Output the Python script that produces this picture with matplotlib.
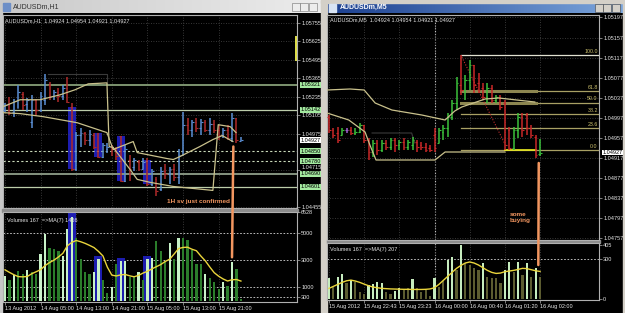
import matplotlib
matplotlib.use('Agg')
import matplotlib.pyplot as plt
import matplotlib.transforms as mtransforms
from matplotlib.patches import Rectangle, ConnectionPatch
import numpy as np

plt.rcParams['font.family'] = ['Liberation Sans', 'DejaVu Sans']

# ---------------- AUDUSDm H1 ----------------
h1_open = [1.05144, 1.05179, 1.05130, 1.05158, 1.05256, 1.05186, 1.05059, 1.05214, 1.05144, 1.05214,
           1.05319, 1.05242, 1.05270, 1.05242, 1.05298, 1.05165, 1.04722, 1.04968, 1.04982, 1.04933,
           1.04968, 1.04982, 1.04813, 1.04863, 1.04877, 1.04863, 1.04961, 1.04638, 1.04792, 1.04736,
           1.04778, 1.04722, 1.04792, 1.04616, 1.04652, 1.04581, 1.04708, 1.04687, 1.04722, 1.04666,
           1.04827, 1.05038, 1.05003, 1.05059, 1.05017, 1.05059, 1.05003, 1.05045, 1.05003, 1.04968,
           1.05003, 1.04947, 1.05088, 1.04924]
h1_high = [1.05193, 1.05235, 1.05221, 1.05319, 1.05270, 1.05228, 1.05249, 1.05221, 1.05270, 1.05397,
           1.05341, 1.05284, 1.05298, 1.05319, 1.05376, 1.05193, 1.04989, 1.05017, 1.04989, 1.05003,
           1.04982, 1.04982, 1.04912, 1.04912, 1.04898, 1.04884, 1.04961, 1.04898, 1.04827, 1.04806,
           1.04792, 1.04806, 1.04806, 1.04722, 1.04666, 1.04736, 1.04757, 1.04736, 1.04757, 1.04863,
           1.05130, 1.05088, 1.05073, 1.05088, 1.05080, 1.05073, 1.05088, 1.05073, 1.05038, 1.05017,
           1.05038, 1.05123, 1.05088, 1.04954]
h1_low = [1.05130, 1.05109, 1.05095, 1.05158, 1.05144, 1.05130, 1.05017, 1.05109, 1.05130, 1.05179,
          1.05214, 1.05214, 1.05200, 1.05214, 1.05193, 1.04708, 1.04708, 1.04877, 1.04898, 1.04891,
          1.04863, 1.04806, 1.04806, 1.04841, 1.04820, 1.04792, 1.04631, 1.04631, 1.04638, 1.04708,
          1.04708, 1.04722, 1.04602, 1.04602, 1.04532, 1.04567, 1.04652, 1.04616, 1.04638, 1.04616,
          1.04827, 1.04968, 1.04954, 1.04989, 1.04968, 1.04989, 1.04968, 1.04982, 1.04933, 1.04947,
          1.04933, 1.04919, 1.04912, 1.04921]
h1_close = [1.05179, 1.05123, 1.05207, 1.05270, 1.05179, 1.05214, 1.05214, 1.05144, 1.05242, 1.05355,
            1.05242, 1.05270, 1.05242, 1.05298, 1.05200, 1.04722, 1.04968, 1.04982, 1.04933, 1.04975,
            1.04877, 1.04813, 1.04898, 1.04877, 1.04863, 1.04820, 1.04638, 1.04863, 1.04722, 1.04792,
            1.04722, 1.04778, 1.04616, 1.04708, 1.04567, 1.04708, 1.04687, 1.04722, 1.04666, 1.04827,
            1.05038, 1.05003, 1.05059, 1.05017, 1.05059, 1.05003, 1.05045, 1.05003, 1.04968, 1.05003,
            1.04947, 1.05088, 1.04927, 1.04927]
h1_vol = [1810, 1520, 1880, 2240, 2000, 2290, 2100, 1950, 3480, 4900,
          3900, 3800, 3700, 3310, 5290, 6160, 4600, 3070, 2120, 2000,
          2120, 3070, 1520, 620, 1050, 2710, 2950, 2950, 1780, 1780,
          2120, 1520, 3070, 3190, 4380, 3670, 2950, 4260, 3070, 4660,
          4600, 4480, 3780, 2710, 2710, 2000, 1670, 1430, 880, 1430,
          1120, 2830, 2360, 167]
h1_vol_pale = [1, 0, 1, 0, 0, 1, 0, 0, 1, 1, 0, 0, 0, 1, 1, 1, 0, 0, 0, 0,
               1, 1, 0, 0, 1, 0, 1, 1, 0, 0, 1, 0, 1, 1, 0, 0, 0, 1, 0, 1,
               0, 0, 0, 0, 0, 1, 0, 0, 0, 1, 0, 1, 0, 0]
h1_vol_ma = [2290, 2100, 1930, 1790, 1775, 1800, 2000, 2150, 2300, 2600,
             2820, 3000, 3230, 3500, 4050, 4300, 4440, 4350, 4230, 4080,
             3920, 3640, 3310, 2480, 1900, 1840, 1920, 1950, 1850, 1780,
             1880, 2050, 2180, 2360, 2520, 2680, 2900, 3070, 3450, 3850,
             3930, 3950, 3800, 3690, 3300, 2950, 2500, 2080, 1820, 1620,
             1470, 1560, 1580, 1466]
h1_marked = [15, 21, 26, 32]
h1_dates = ['13 Aug 2012', '14 Aug 05:00', '14 Aug 13:00', '14 Aug 21:00',
            '15 Aug 05:00', '15 Aug 13:00', '15 Aug 21:00']
# 1.04845 and 1.04585 sit under the level boxes, so they are left out
h1_price_ticks = [1.05755, 1.05625, 1.05495, 1.05365, 1.05235, 1.05105,
                  1.04975, 1.04715, 1.04455]
h1_raised_tick = 1.04715
h1_levels = [1.05321, 1.05142, 1.04850, 1.04780, 1.04690, 1.04601]
h1_vol_levels = [300, 1000, 3000, 5000]
h1_vol_ticks = [300, 1000, 3000, 5000, 6528]

h1_up_x = [-0.45, 3.4, 7.9, 12.4, 15.7, 18.7, 22.9, 23.4, 24.3]
h1_up_y = [1.05165, 1.05214, 1.05214, 1.05249, 1.05284, 1.05326, 1.05333, 1.04884, 1.04877]
h1_mid_x = [-0.45, 3.4, 8.5, 16.2, 22.9, 24.3, 28.8, 29.7, 36.4, 37.8, 39.3, 43.8, 46.7, 48.8, 51.2]
h1_mid_y = [1.05123, 1.05116, 1.05095, 1.05052, 1.04982, 1.04863, 1.04919, 1.04841, 1.04799,
            1.04792, 1.04813, 1.04884, 1.04933, 1.04961, 1.04919]
h1_low_x = [24.3, 28.1, 29.7, 32.6, 37.8, 46.7, 47.9, 50.6, 51.9]
h1_low_y = [1.04877, 1.04722, 1.04652, 1.04631, 1.04602, 1.04574, 1.05038, 1.05024, 1.04982]
h1_box_x = [9.7, 22.9, 22.9]
h1_box_y = [1.05397, 1.05397, 1.05333]

# ---------------- AUDUSDm M5 ----------------
m5_open = [1.04998, 1.04972, 1.04966, 1.04962, 1.04972, 1.04972, 1.04966, 1.04968, 1.04982, 1.04952,
           1.04928, 1.04946, 1.04932, 1.04946, 1.04938, 1.04952, 1.04942, 1.04948, 1.04938, 1.04942,
           1.04948, 1.04942, 1.04938, 1.04936, 1.04962, 1.04946, 1.04968, 1.04976, 1.04998, 1.05026,
           1.05062, 1.05052, 1.05072, 1.05102, 1.05066, 1.05056, 1.05038, 1.05056, 1.05032, 1.05038,
           1.05026, 1.04972, 1.04936, 1.04972, 1.04998, 1.05002, 1.04976, 1.04958, 1.04924]
m5_high = [1.05002, 1.04976, 1.04978, 1.04976, 1.04976, 1.04978, 1.04976, 1.04986, 1.04982, 1.04956,
           1.04952, 1.04952, 1.04952, 1.04952, 1.04956, 1.04956, 1.04952, 1.04956, 1.04952, 1.04958,
           1.04952, 1.04948, 1.04946, 1.04942, 1.04976, 1.04976, 1.04982, 1.05006, 1.05032, 1.05078,
           1.05122, 1.05082, 1.05112, 1.05102, 1.05086, 1.05066, 1.05066, 1.05062, 1.05042, 1.05042,
           1.05032, 1.04978, 1.04978, 1.05006, 1.05006, 1.05006, 1.04982, 1.04962, 1.04954]
m5_low = [1.04966, 1.04956, 1.04946, 1.04962, 1.04966, 1.04962, 1.04962, 1.04966, 1.04946, 1.04912,
          1.04918, 1.04922, 1.04928, 1.04932, 1.04932, 1.04928, 1.04932, 1.04932, 1.04932, 1.04932,
          1.04928, 1.04932, 1.04928, 1.04928, 1.04928, 1.04946, 1.04952, 1.04958, 1.04992, 1.05012,
          1.05042, 1.05032, 1.05052, 1.05046, 1.05046, 1.05032, 1.05026, 1.05026, 1.05026, 1.05012,
          1.04932, 1.04932, 1.04932, 1.04956, 1.04958, 1.04962, 1.04956, 1.04916, 1.04921]
m5_close = [1.04972, 1.04962, 1.04952, 1.04972, 1.04972, 1.04966, 1.04968, 1.04982, 1.04952, 1.04928,
            1.04946, 1.04932, 1.04946, 1.04938, 1.04952, 1.04942, 1.04948, 1.04938, 1.04948, 1.04952,
            1.04938, 1.04938, 1.04932, 1.04932, 1.04936, 1.04972, 1.04976, 1.04998, 1.05026, 1.05066,
            1.05052, 1.05072, 1.05102, 1.05062, 1.05052, 1.05038, 1.05056, 1.05032, 1.05038, 1.05018,
            1.04942, 1.04936, 1.04972, 1.04998, 1.04972, 1.04976, 1.04962, 1.04922, 1.04927]
m5_vol = [160, 92, 166, 191, 117, 142, 130, 55, 38, 105,
          110, 130, 117, 55, 38, 62, 80, 67, 80, 148,
          80, 55, 67, 25, 155, 92, 137, 292, 317, 217,
          405, 267, 255, 230, 217, 267, 167, 155, 155, 117,
          217, 280, 205, 280, 180, 267, 167, 230, 167]
m5_vol_pale = [1, 0, 1, 1, 0, 1, 0, 0, 0, 1, 1, 1, 1, 0, 0, 1, 1, 0, 0, 1,
               0, 0, 0, 0, 1, 0, 0, 1, 1, 0, 1, 0, 0, 0, 0, 1, 0, 0, 0, 0,
               1, 1, 0, 1, 0, 1, 0, 1, 0]
m5_vol_ma = [80, 95, 110, 125, 137, 142, 135, 125, 112, 100,
             90, 85, 80, 78, 76, 75, 74, 73, 73, 72,
             72, 72, 73, 76, 85, 110, 140, 170, 200, 230,
             252, 270, 278, 270, 255, 235, 215, 200, 192, 195,
             205, 210, 215, 222, 230, 228, 220, 212, 207]
m5_dates = ['15 Aug 2012', '15 Aug 22:43', '15 Aug 23:23', '16 Aug 00:00',
            '16 Aug 00:40', '16 Aug 01:20', '16 Aug 02:00']
m5_price_ticks = [1.05197, 1.05157, 1.05117, 1.05077, 1.05037, 1.04997,
                  1.04957, 1.04917, 1.04877, 1.04837, 1.04797, 1.04757]
m5_vol_ticks = [0, 300, 405]
fib_ratios = [0.0, 23.6, 38.2, 50.0, 61.8, 100.0]
fib_low, fib_high, fib_start = 1.04932, 1.05122, 30

m5_up_x = [-0.45, 4.8, 8.0, 10.5, 14.3, 21.1, 26.4, 28.6, 30.2, 35.5, 38.6, 46.8]
m5_up_y = [1.05052, 1.05054, 1.05052, 1.05026, 1.05012, 1.05002, 1.04992, 1.05010, 1.05018,
           1.05034, 1.05036, 1.05028]
m5_low_x = [-0.45, 4.5, 8.2, 9.3, 10.7, 24.1, 26.4, 40.0]
m5_low_y = [1.05006, 1.04992, 1.04968, 1.04942, 1.04912, 1.04912, 1.04928, 1.04928]
m5_box_x = [9.8, 18.8, 19.5]
m5_box_y = [1.04966, 1.04966, 1.04946]

W, H = 625, 313
TXT = '#e6e6e6'
GRID = '#4a4a4a'
KHAKI = '#c9c18c'
ORANGE = '#f29660'
DARKLINE = '#3a3a3a'


def rect(x0, y0, x1, y1):
    return [x0 / W, 1 - y1 / H, (x1 - x0) / W, (y1 - y0) / H]


def draw_bars(ax, o, h, l, c, up, dn, flat):
    o, h, l, c = map(np.array, (o, h, l, c))
    x = np.arange(len(o))
    cols = np.where(c > o, up, np.where(c < o, dn, flat))
    ax.vlines(x, l, h, colors=cols, lw=1.1, zorder=3)
    ax.hlines(o, x - 0.4, x, colors=cols, lw=0.8, zorder=3)
    ax.hlines(c, x, x + 0.4, colors=cols, lw=0.8, zorder=3)


def style(ax, yticks, fmt, skip=None):
    ax.set_facecolor('black')
    for s in ax.spines.values():
        s.set_color('#b0b0b0')
        s.set_linewidth(0.8)
    ax.yaxis.tick_right()
    ax.set_yticks(yticks)
    ax.set_yticklabels(['' if v == skip else fmt % v for v in yticks])
    ax.tick_params(axis='y', colors='#b0b0b0', labelcolor=TXT, labelsize=4,
                   length=2, width=0.5, pad=1)
    ax.tick_params(axis='x', colors='#b0b0b0', labelcolor=TXT, labelsize=4,
                   length=2, width=0.5, pad=1)


def price_box(ax, y, fc):
    tr = mtransforms.blended_transform_factory(ax.transAxes, ax.transData)
    ax.text(1.012, y, '%.5f' % y, transform=tr, ha='left', va='center', fontsize=4,
            color='black', clip_on=False, zorder=6,
            bbox=dict(boxstyle='square,pad=0.08', fc=fc, ec='none'))


fig = plt.figure(figsize=(6.25, 3.13), dpi=100, facecolor='black')

# window chrome
bg = fig.add_axes([0, 0, 1, 1], zorder=0)
bg.set_xlim(0, W)
bg.set_ylim(H, 0)
bg.axis('off')
grad = np.linspace(0, 1, 256)[None, :]
bg.imshow(grad, cmap=matplotlib.colors.LinearSegmentedColormap.from_list('t1', ['#c9c9c9', '#ececec']),
          extent=(0, 321, 13, 0), aspect='auto')
bg.add_patch(Rectangle((0, 0), 1.5, H, color='#c8c8c8'))
bg.add_patch(Rectangle((2.5, 2.5), 7, 8, color='#6d8fc7'))
bg.text(13, 7, 'AUDUSDm,H1', fontsize=5, color='#303030', va='center')
bg.add_patch(Rectangle((321, 0), 6, H, color='#d4d0c8'))
bg.add_patch(Rectangle((321, 0), 304, 2.5, color='#d4d0c8'))
bg.add_patch(Rectangle((622.5, 0), 2.5, H, color='#d4d0c8'))
bg.imshow(grad, cmap=matplotlib.colors.LinearSegmentedColormap.from_list('t2', ['#1b3f8f', '#7ba5dc']),
          extent=(327, 622.5, 13, 2.5), aspect='auto')
bg.add_patch(Rectangle((329, 4), 7, 8, color='#d8e4f4'))
bg.text(340, 7.8, 'AUDUSDm,M5', fontsize=5, color='white', va='center', fontweight='bold')
for bx in (292, 300, 309):
    bg.add_patch(Rectangle((bx, 3), 7.5, 8, fc='#ececec', ec='#707070', lw=0.4))
for bx in (595, 603, 612):
    bg.add_patch(Rectangle((bx, 4), 7.5, 7.5, fc='#d4d0c8', ec='#404040', lw=0.4))
bg.add_patch(Rectangle((2, 208.5), 296, 3, color='#8c8c8c'))
bg.add_patch(Rectangle((327, 240.2), 273, 2.8, color='#8c8c8c'))

# ---- H1 main ----
ax1 = fig.add_axes(rect(3, 15, 297, 208), zorder=2)
style(ax1, h1_price_ticks, '%.5f', skip=h1_raised_tick)
ax1.set_xlim(-0.45, 65.6)
ax1.set_ylim(1.04450, 1.05812)
ax1.set_xticks(range(0, len(h1_open), 8))
ax1.tick_params(axis='x', length=0, labelbottom=False)
ax1.grid(True, color=GRID, ls=(0, (1, 2)), lw=0.6)
for i in h1_marked:
    ax1.bar(i, h1_open[i] - h1_close[i], bottom=h1_close[i], width=1.8, color='#1d1db0', zorder=1)
ax1.plot(h1_box_x, h1_box_y, color=DARKLINE, lw=0.8, zorder=1)
draw_bars(ax1, h1_open, h1_high, h1_low, h1_close, '#5b8fd4', '#b02a2a', '#b02a2a')
lstyle = [('-', '#7d9470', 1.4), ('-', '#bccdaa', 0.9), ((0, (2, 2)), '#c8d8b8', 0.8),
          ((0, (2, 2)), '#c8d8b8', 0.8), ('-', '#859480', 1.4), ('-', '#bccdaa', 0.9)]
for lv, (ls, col, lw) in zip(h1_levels, lstyle):
    ax1.axhline(lv, color=col, ls=ls, lw=lw, zorder=2)
ax1.plot(h1_up_x, h1_up_y, color=KHAKI, lw=0.9, zorder=4)
ax1.plot(h1_mid_x, h1_mid_y, color=KHAKI, lw=0.9, zorder=4)
ax1.plot(h1_low_x, h1_low_y, color=KHAKI, lw=0.9, zorder=4)
ax1.text(0.008, 0.985, 'AUDUSDm,H1  1.04924 1.04954 1.04921 1.04927', transform=ax1.transAxes,
         fontsize=4, color=TXT, va='top', ha='left')
tr1 = mtransforms.blended_transform_factory(ax1.transAxes, ax1.transData)
# the label partly hidden by the 1.04690 box: lifted a touch so both stay readable
ax1.text(1.017, h1_raised_tick, '%.5f' % h1_raised_tick, transform=tr1, fontsize=4,
         color=TXT, ha='left', va='bottom', clip_on=False)
ax1.plot([0.997, 0.997], [1.05657, 1.05495], transform=tr1, color='#e2e24a', lw=1.4,
         clip_on=False, zorder=5)
for lv in h1_levels:
    price_box(ax1, lv, '#a4eaa0')
price_box(ax1, h1_close[-1], 'white')
ax1.text(50.6, 1.04497, '1H sv just confirmed', color=ORANGE, fontsize=4.6,
         fontweight='bold', ha='right', va='center', zorder=6)

# ---- H1 volumes ----
ax2 = fig.add_axes(rect(3, 212, 297, 302), zorder=2)
style(ax2, h1_vol_ticks, '%d')
ax2.set_xlim(-0.45, 65.6)
ax2.set_ylim(-70, 6530)
x1 = np.arange(len(h1_vol))
ax2.set_xticks(range(0, len(h1_vol), 8))
ax2.set_xticklabels(h1_dates)
for t in ax2.get_xticklabels():
    t.set_ha('left')
ax2.grid(True, axis='x', color=GRID, ls=(0, (1, 2)), lw=0.6)
for lv in h1_vol_levels:
    ax2.axhline(lv, color='#d8d8d8', ls=(0, (2, 2)), lw=0.6, zorder=1)
for i in h1_marked:
    ax2.bar(i, h1_vol[i] * 1.07, width=1.8, color='#1d1db0', zorder=2)
vcol1 = ['#c8f2c8' if p else '#2b7d2b' for p in h1_vol_pale]
ax2.bar(x1, h1_vol, width=0.5, color=vcol1, zorder=3)
ax2.plot(x1, h1_vol_ma, color='#ead53c', lw=1.0, zorder=4)
ax2.text(0.015, 0.93, 'Volumes 167  =>MA(7) 1466', transform=ax2.transAxes,
         fontsize=4, color=TXT, va='top', ha='left', zorder=6)

# ---- M5 main ----
ax3 = fig.add_axes(rect(327, 15, 599, 240), zorder=2)
style(ax3, m5_price_ticks, '%.5f')
ax3.set_xlim(-0.45, 61.4)
ax3.set_ylim(1.04752, 1.05202)
ax3.set_xticks(range(0, len(m5_open), 8))
ax3.tick_params(axis='x', length=0, labelbottom=False)
ax3.grid(True, color=GRID, ls=(0, (1, 2)), lw=0.6)
ax3.axvline(24, color='#d0d0d0', ls=(0, (1, 1.5)), lw=0.8, zorder=1)
ax3.plot(m5_box_x, m5_box_y, color=DARKLINE, lw=0.8, zorder=1)
fib_end = ax3.get_xlim()[1]
for r in fib_ratios:
    lv = fib_low + r / 100 * (fib_high - fib_low)
    col = '#e0e0d0' if r == 100 else '#a8a064'
    ax3.plot([fib_start, fib_end], [lv, lv], color=col, lw=0.9, zorder=2)
    ax3.text(fib_end - 0.3, lv + 0.00002, '%.1f' % r, color='#cfc36e', fontsize=3.8,
             ha='right', va='bottom', zorder=6)
for r in (50.0, 61.8):
    lv = fib_low + r / 100 * (fib_high - fib_low)
    ax3.plot([fib_start, 47], [lv, lv], color='#8c8650', lw=2.2, zorder=2)
ax3.plot([40, 47], [fib_low, fib_low], color='#eaea20', lw=1.2, zorder=2)
ax3.plot([30.2, 40], [fib_high - 0.00004, fib_low + 0.00012], color='#c83030',
         ls=(0, (1, 1.5)), lw=0.8, zorder=2)
draw_bars(ax3, m5_open, m5_high, m5_low, m5_close, '#3cc23c', '#c82828', '#a060d0')
ax3.plot(m5_up_x, m5_up_y, color=KHAKI, lw=0.9, zorder=4)
ax3.plot(m5_low_x, m5_low_y, color=KHAKI, lw=0.9, zorder=4)
ax3.text(0.01, 0.988, 'AUDUSDm,M5  1.04924 1.04954 1.04921 1.04927', transform=ax3.transAxes,
         fontsize=4, color=TXT, va='top', ha='left')
price_box(ax3, m5_close[-1], 'white')
ax3.text(41.1, 1.04797, 'some\nbuying', color=ORANGE, fontsize=4.6, fontweight='bold',
         ha='left', va='center', linespacing=1.3, zorder=6)

# ---- M5 volumes ----
ax4 = fig.add_axes(rect(327, 243, 599, 300), zorder=2)
style(ax4, m5_vol_ticks, '%d')
ax4.set_xlim(-0.45, 61.4)
ax4.set_ylim(-7, 420)
x2 = np.arange(len(m5_vol))
ax4.set_xticks(range(0, len(m5_vol), 8))
ax4.set_xticklabels(m5_dates)
for t in ax4.get_xticklabels():
    t.set_ha('left')
ax4.grid(True, axis='x', color=GRID, ls=(0, (1, 2)), lw=0.6)
ax4.axvline(24, color='#d0d0d0', ls=(0, (1, 1.5)), lw=0.8, zorder=1)
ax4.axhline(300, color='#d8d8d8', ls=(0, (2, 2)), lw=0.6, zorder=1)
vcol2 = ['#c6ecbe' if p else '#5c5c30' for p in m5_vol_pale]
ax4.bar(x2, m5_vol, width=0.5, color=vcol2, zorder=3)
ax4.plot(x2, m5_vol_ma, color='#ead53c', lw=1.0, zorder=4)
ax4.text(0.01, 0.93, 'Volumes 167  =>MA(7) 207', transform=ax4.transAxes,
         fontsize=4, color=TXT, va='top', ha='left', zorder=6)

# hand-drawn orange markers crossing into the volume panes
for a, b, pa, pb in ((ax1, ax2, (51.3, 1.04884), (51.0, 3210)),
                     (ax3, ax4, (47.7, 1.04906), (47.6, 255))):
    con = ConnectionPatch(xyA=pa, coordsA=a.transData, xyB=pb, coordsB=b.transData,
                          color=ORANGE, lw=1.8, zorder=10)
    fig.add_artist(con)

fig.savefig('out.png', dpi=100, facecolor=fig.get_facecolor())
